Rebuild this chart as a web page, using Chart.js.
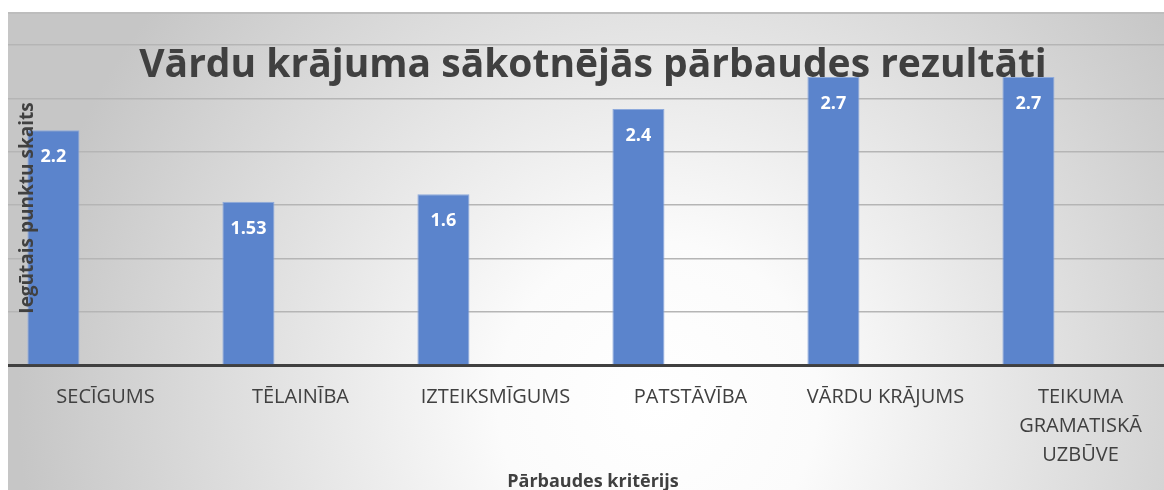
<!DOCTYPE html>
<html>
<head>
<meta charset="utf-8">
<script src="https://cdn.jsdelivr.net/npm/chart.js@4/dist/chart.umd.min.js"></script>
<style>
    html, body { margin: 0; padding: 0; background: #fff; overflow: hidden; width: 1164px; height: 490px; }
    #wrap { position: absolute; left: 8px; top: 12px; width: 1170px; height: 490px; }
</style>
</head>
<body>
<div id="wrap"><canvas id="chart" width="1170" height="490"></canvas></div>
<script>
const chartTitle = 'Vārdu krājuma sākotnējās pārbaudes rezultāti';
const xTitle = 'Pārbaudes kritērijs';
const yTitle = 'Iegūtais punktu skaits';
const categories = [
    'SECĪGUMS',
    'TĒLAINĪBA',
    'IZTEIKSMĪGUMS',
    'PATSTĀVĪBA',
    'VĀRDU KRĀJUMS',
    ['TEIKUMA', 'GRAMATISKĀ', 'UZBŪVE']
];
const scores = [2.2, 1.53, 1.6, 2.4, 2.7, 2.7];
const emptySeries = [null, null, null, null, null, null];
const yTicks = [0, 0.5, 1, 1.5, 2, 2.5, 3];

const textColor = '#404040';

// radial grey background + top edge line
const backgroundPlugin = {
    id: 'background',
    beforeDraw(chart) {
        const c = chart.ctx;
        const w = chart.width, h = chart.height;
        const g = c.createRadialGradient(650, 390, 0, 650, 390, 640);
        g.addColorStop(0, '#ffffff');
        g.addColorStop(0.25, '#fbfbfb');
        g.addColorStop(1, '#c6c6c6');
        c.save();
        c.fillStyle = g;
        c.fillRect(0, 0, w, h);
        c.strokeStyle = '#bdbdbd';
        c.lineWidth = 2;
        c.beginPath();
        c.moveTo(0, 1);
        c.lineTo(w, 1);
        c.stroke();
        c.restore();
    }
};

// value labels, titles drawn over the plot
const overlayPlugin = {
    id: 'overlay',
    afterDatasetsDraw(chart) {
        const c = chart.ctx;
        c.save();
        const meta = chart.getDatasetMeta(0);
        c.fillStyle = '#ffffff';
        c.font = 'bold 18px "Open Sans"';
        c.textAlign = 'center';
        c.textBaseline = 'middle';
        meta.data.forEach(function(bar, i) {
            c.fillText(String(scores[i]), bar.x, bar.y + 27);
        });

        c.fillStyle = textColor;
        c.font = 'bold 39px "Open Sans"';
        c.textBaseline = 'alphabetic';
        c.fillText(chartTitle, 585, 65);

        c.font = 'bold 18px "Open Sans"';
        c.textBaseline = 'middle';
        c.fillText(xTitle, 585, 470);

        c.font = 'bold 19px "Open Sans"';
        c.translate(20, 196);
        c.rotate(-Math.PI / 2);
        c.fillText(yTitle, 0, 0);
        c.restore();
    }
};

const ctx = document.getElementById('chart').getContext('2d');

new Chart(ctx, {
    type: 'bar',
    data: {
        labels: categories,
        datasets: [{
            data: scores,
            backgroundColor: '#5b84cc',
            borderColor: '#8eaadc',
            borderWidth: 1,
            borderSkipped: 'start'
        }, {
            data: emptySeries,
            backgroundColor: '#ed7d31'
        }]
    },
    options: {
        responsive: false,
        animation: false,
        categoryPercentage: 1.068,
        barPercentage: 0.5,
        layout: { padding: { top: 33, left: 0, right: 0, bottom: 14 } },
        plugins: {
            legend: { display: false },
            tooltip: { enabled: false },
            title: { display: false }
        },
        scales: {
            x: {
                grid: { display: false, drawTicks: false },
                border: { display: true, color: '#404040', width: 3 },
                ticks: {
                    color: textColor,
                    padding: 18,
                    maxRotation: 0,
                    autoSkip: false,
                    font: { family: 'Open Sans', size: 20, lineHeight: 1.45 }
                }
            },
            y: {
                min: 0,
                max: 3,
                afterBuildTicks: function(scale) {
                    scale.ticks = yTicks.map(function(v) { return { value: v }; });
                },
                ticks: { display: false },
                border: { display: false },
                grid: {
                    drawTicks: false,
                    lineWidth: 1.5,
                    color: function(c) { return c.tick && c.tick.value === 0 ? 'rgba(0,0,0,0)' : '#b5b5b5'; }
                }
            }
        }
    },
    plugins: [backgroundPlugin, overlayPlugin]
});
</script>
</body>
</html>
